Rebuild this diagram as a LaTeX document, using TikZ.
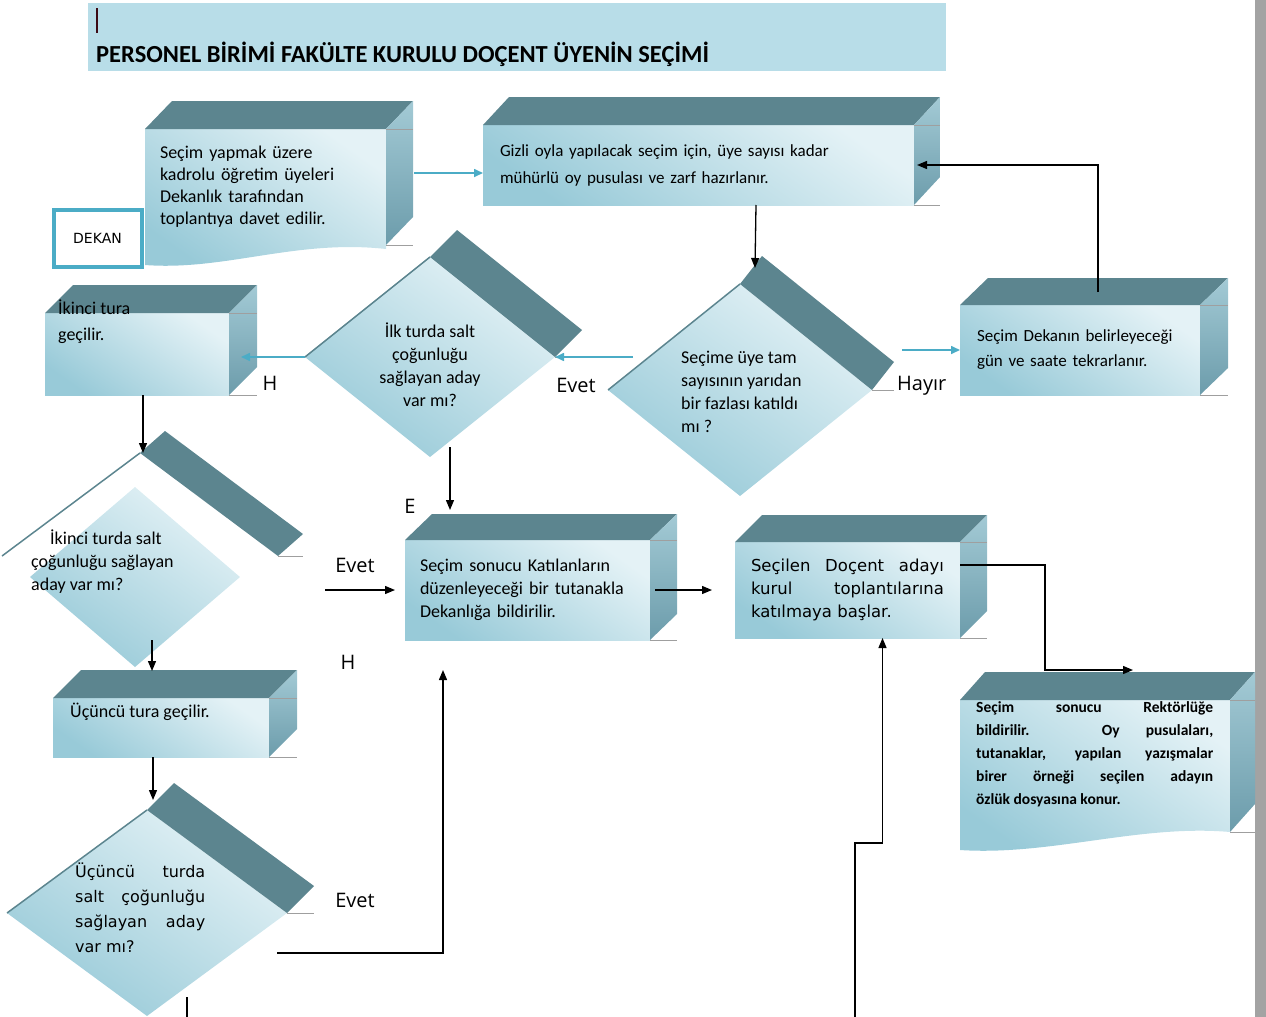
\documentclass[tikz,border=0pt]{standalone}
\usepackage{fontspec}
\setmainfont{Carlito}
\newfontfamily\verdfont{DejaVu Sans}
\newfontfamily\labelfont{Open Sans}
\usetikzlibrary{calc, shapes.geometric, arrows.meta, positioning}
\pgfdeclarelayer{back}
\pgfsetlayers{back,main}

\definecolor{slate}{HTML}{5C858F}
\definecolor{sidehi}{HTML}{A3CAD5}
\definecolor{sidelo}{HTML}{6C9CAB}
\definecolor{fronthi}{HTML}{E4F2F6}
\definecolor{frontlo}{HTML}{98CAD8}
\definecolor{arrowteal}{HTML}{4BACC6}
\definecolor{banner}{HTML}{B8DDE8}
\definecolor{cursorred}{HTML}{3C0A14}
\definecolor{pagegray}{HTML}{A3A3A3}

% top and side of a box, #2/#3 = depth
\newcommand{\cubefaces}[3]{%
  \fill[topface] (#1.north west) -- ++(#2,#3) -- ($(#1.north east)+(#2,#3)$) -- (#1.north east) -- cycle;
  \shade[sideface] (#1.north east) -- ++(#2,#3) -- ($(#1.south east)+(#2,#3)$) -- (#1.south east) -- cycle;
  \draw[rim] (#1.north east) -- ++(#2,0) (#1.south east) -- ++(#2,0);
}
% raised band of a decision
\newcommand{\bandfaces}[3]{%
  \fill[topface] (#1.north) -- ++(#2,#3) -- ($(#1.east)+(#2,#3)$) -- (#1.east) -- cycle;
  \draw[rim] (#1.east) -- ++(#2,0);
  \draw[slate, line width=1.5pt] (#1.west) -- (#1.north);
}

\begin{document}
\begin{tikzpicture}[x=1pt, y=-1pt]
  % Styles
  \tikzset{
    front/.style={top color=fronthi, bottom color=frontlo, shading angle=-35},
    cubebox/.style={rectangle, anchor=north west, inner xsep=16pt, inner ysep=0pt, outer sep=0pt, align=left},
    frontbox/.style={cubebox, front},
    topface/.style={fill=slate},
    sideface/.style={top color=sidehi, bottom color=sidelo},
    rim/.style={draw=gray!75, line width=0.7pt},
    decision/.style={diamond, front, inner sep=0pt, outer sep=0pt},
    boxtext/.style={font=\fontsize{18}{23}\selectfont},
    lbl/.style={font=\labelfont\fontsize{20}{24}\selectfont, inner sep=0pt},
    arr/.style={-{Triangle[length=10pt,width=8pt]}, line width=1.3pt},
    tarr/.style={-{Triangle[length=9pt,width=8pt]}, line width=1.6pt, draw=arrowteal, arrowteal}
  }

  \useasboundingbox (0,0) rectangle (1266,1017);
  \clip (0,0) rectangle (1266,1017);

  % heading
  \fill[banner] (88,3) rectangle (946,71);
  \draw[line width=2.5pt, cursorred] (97,8) -- (97,33);
  \node (title) [anchor=base west, inner sep=0pt, font=\bfseries\fontsize{24.5}{28}\selectfont] at (96,62)
    {PERSONEL BİRİMİ FAKÜLTE KURULU DOÇENT ÜYENİN SEÇİMİ};
  \fill[pagegray] (1255,0) rectangle (1266,1017);

  % boxes
  \node (invite) [cubebox, font=\fontsize{18}{22}\selectfont, minimum width=241, minimum height=116, text width=211, inner xsep=15pt] at (145,129)
    {Seçim yapmak üzere\\kadrolu öğretim üyeleri\\Dekanlık tarafından\\toplantıya davet edilir.};
  \node (ballots) [frontbox, font=\fontsize{17}{27}\selectfont, minimum width=429, minimum height=80, text width=397, inner xsep=17pt] at (483,125)
    {Gizli oyla yapılacak seçim için, üye sayısı kadar\\mühürlü oy pusulası ve zarf hazırlanır.};
  \node (repeat) [frontbox, font=\fontsize{17}{25}\selectfont, minimum width=240, minimum height=90, text width=206, inner xsep=17pt] at (960,305)
    {Seçim Dekanın belirleyeceği\\gün ve saate tekrarlanır.};
  \node (second) [frontbox, minimum width=184, minimum height=82] at (45,313) {};
  \node (third) [frontbox, minimum width=216, minimum height=59] at (53,698) {};
  \node (report) [frontbox, boxtext, minimum width=245, minimum height=100, text width=215, inner xsep=15pt] at (405,540)
    {Seçim sonucu Katılanların\\düzenleyeceği bir tutanakla\\Dekanlığa bildirilir.};
  \node (attend) [frontbox, font=\verdfont\fontsize{16.5}{23}\selectfont, align=justify, minimum width=225, minimum height=96, text width=193, inner xsep=15pt] at (735,542)
    {Seçilen Doçent adayı\linebreak kurul toplantılarına\linebreak katılmaya başlar.};
  \node (rector) [cubebox, minimum width=270, minimum height=132] at (960,700) {};

  \node (dean) [draw=arrowteal, line width=4pt, fill=white, minimum width=88, minimum height=57,
    font=\verdfont\fontsize{14}{16}\selectfont] at (97.5,238) {DEKAN};

  % decisions
  \node (first) [decision, minimum width=250, minimum height=200] at (430,357) {};
  \node (quorum) [decision, minimum width=264, minimum height=212] at (740,390) {};
  \node (secondq) [diamond, inner sep=0pt, outer sep=0pt, minimum width=276, minimum height=206] at (140,556) {};
  \node (secondqf) [decision, minimum width=210, minimum height=180] at (135,577) {};
  \node (thirdq) [decision, minimum width=280, minimum height=206] at (147,913) {};

  \begin{pgfonlayer}{back}
    \shade[front] (invite.north west) -- (invite.north east) -- ($(invite.south east)+(0,4)$)
      .. controls ($(invite.south east)+(-90,-6)$) and ($(invite.south west)+(80,26)$) .. ($(invite.south west)+(0,20)$) -- cycle;
    \shade[front] (rector.north west) -- (rector.north east) -- (rector.south east)
      .. controls ($(rector.south east)+(-90,-8)$) and ($(rector.south west)+(90,24)$) .. ($(rector.south west)+(0,18)$) -- cycle;
  \end{pgfonlayer}

  \cubefaces{invite}{27}{-28}
  \cubefaces{ballots}{26}{-28}
  \cubefaces{repeat}{28}{-27}
  \cubefaces{second}{28}{-28}
  \cubefaces{third}{28}{-28}
  \cubefaces{report}{27}{-26}
  \cubefaces{attend}{27}{-27}
  \cubefaces{rector}{25}{-28}
  \bandfaces{first}{27}{-27}
  \bandfaces{quorum}{22}{-28}
  \bandfaces{secondq}{25}{-22}
  \bandfaces{thirdq}{27}{-27}

  % texts
  \node (firsttxt) [boxtext, align=center, inner sep=0pt] at (430,365)
    {İlk turda salt\\çoğunluğu\\sağlayan aday\\var mı?};
  \node (quorumtxt) [boxtext, align=left, inner sep=0pt, anchor=north west] at (681,351)
    {Seçime üye tam\\sayısının yarıdan\\bir fazlası katıldı\\mı ?};
  \node (secondqtxt) [boxtext, align=left, inner sep=0pt, anchor=north west] at (31,530)
    {\hspace*{19pt}İkinci turda salt\\çoğunluğu sağlayan\\aday var mı?};
  \node (thirdqtxt) [font=\verdfont\fontsize{16}{25}\selectfont, text width=130, align=justify, inner sep=0pt, anchor=north west] at (75,863)
    {Üçüncü turda\linebreak salt çoğunluğu\linebreak sağlayan aday\linebreak var mı?};
  \node (secondtxt) [font=\fontsize{18}{26}\selectfont, align=left, inner sep=0pt, anchor=north west] at (58,300)
    {İkinci tura\\geçilir.};
  \node (thirdtxt) [boxtext, inner sep=0pt, anchor=west] at (70,712) {Üçüncü tura geçilir.};
  \node (rectortxt) [font=\bfseries\fontsize{15.5}{23}\selectfont, text width=237, align=justify, inner sep=0pt, anchor=north west] at (976,701)
    {Seçim sonucu Rektörlüğe\linebreak bildirilir. Oy pusulaları,\linebreak tutanaklar, yapılan yazışmalar\linebreak birer örneği seçilen adayın\linebreak özlük dosyasına konur.};

  % connectors
  \draw[tarr] ([xshift=28,yshift=14]invite.east) -- ([yshift=-8]ballots.west);
  \draw[arr] ([xshift=57.5]ballots.south) -- ([xshift=15,yshift=16]quorum.north);
  \draw[tarr] ($(quorum.west |- first.east)+(25,0)$) -- (first.east);
  \draw[tarr] ($(quorum.east)+(30,-40)$) -- (repeat.west);
  \draw[arr] ([xshift=18,yshift=13]repeat.north) |- ([xshift=3]ballots.east);
  \draw[tarr] (first.west) -- ($(second.east |- first.west)+(12,0)$);
  \draw[arr] ([xshift=6]second.south) -- ([xshift=6]second.south |- secondq.north);
  \draw[arr] ([xshift=20,yshift=10]first.south) -- ([xshift=45,yshift=30]report.north west);
  \draw[arr] ([xshift=-80]report.west) -- ([xshift=-10]report.west);
  \draw[arr] ([xshift=17,yshift=27]secondqf.south) -- ([xshift=17,yshift=27]secondqf.south |- third.north);
  \draw[arr, shorten >=10pt] ([xshift=-8]third.south) -- ([xshift=-8]third.south |- thirdq.north);
  \draw[arr] ($(thirdq.center)+(130,40)$) -| ([xshift=38,yshift=-30]report.south west);
  \draw[line width=1.3pt] ([xshift=40,yshift=19]thirdq.south) -- ([xshift=40,yshift=-10]thirdq.south);
  \draw[arr] ([xshift=5]report.east) -- ([xshift=-23]attend.west);
  \draw[arr] ([yshift=25]attend.east) -| ([xshift=-50,yshift=30]rector.north) -- ([xshift=38,yshift=30]rector.north);
  \coordinate (fromnext) at (855,1020);
  \coordinate (bend) at (855,843);
  \draw[arr] (fromnext) -- (bend) -| ([xshift=35]attend.south);

  % labels
  \node (evet1) [lbl] at (576,385) {Evet};
  \node (hayir) [lbl, anchor=west] at (897,386) {Hayır};
  \node (h1) [lbl] at (270,383) {H};
  \node (e1) [lbl] at (410,506) {E};
  \node (evet2) [lbl] at (355,565) {Evet};
  \node (h2) [lbl] at (348,662) {H};
  \node (evet3) [lbl] at (355,900) {Evet};
\end{tikzpicture}
\end{document}
